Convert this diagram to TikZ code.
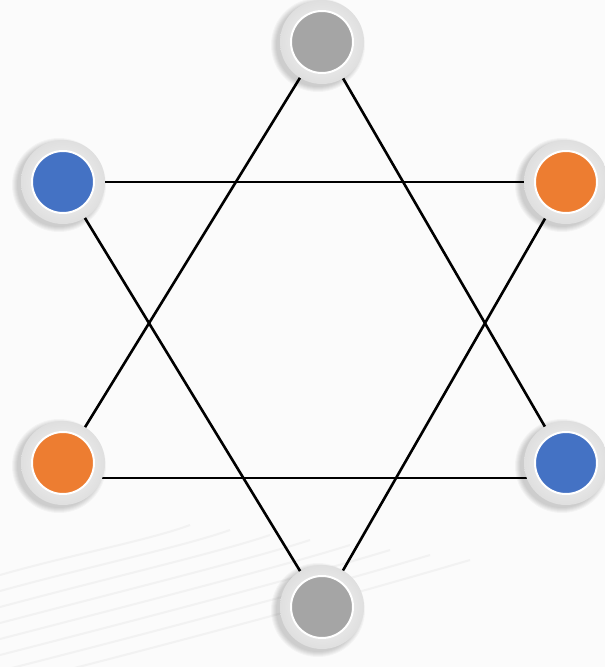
\documentclass[tikz,border=0pt]{standalone}
\usetikzlibrary{calc}
\definecolor{bgc}{HTML}{FBFBFB}
\definecolor{swirl}{HTML}{F2F2F2}
\definecolor{ringout}{HTML}{DFDFDF}
\definecolor{ringin}{HTML}{F8F8F8}
\definecolor{cblue}{HTML}{4472C4}
\definecolor{corange}{HTML}{ED7D31}
\definecolor{cgray}{HTML}{A5A5A5}
\tikzset{
  link/.style={draw=black, line width=2.6pt},
  ring/.style={circle, minimum size=84pt, inner sep=0pt, outer sep=0pt,
    inner color=ringin, outer color=ringout},
  core/.style={circle, minimum size=62pt, inner sep=0pt, outer sep=0pt,
    fill=#1, draw=white, line width=2pt},
  softshadow/.style={circle, inner sep=0pt, fill=black, fill opacity=0.03},
  swirlline/.style={draw=swirl, line width=2pt}
}
\newcommand{\mybead}[3]{%
  \foreach \r in {94,92,90,88,86,84}{
    \node[softshadow, minimum size=\r pt] at ($(#1)+(-4,3)$) {};
  }
  \node[ring] (#1ring) at (#1) {};
  \node[core=#2] (#1core) at (#1) {};
}
\begin{document}
\begin{tikzpicture}[x=1pt,y=-1pt]
\useasboundingbox (0,0) rectangle (605,667);
\clip (0,0) rectangle (605,667);
\fill[bgc] (0,0) rectangle (605,667);
% faint background swirls
\foreach \k in {0,...,7}{
  \draw[swirlline] (0,{575+\k*16}) .. controls ({70+\k*25},{555+\k*10}) and ({150+\k*35},{540+\k*6}) .. ({190+\k*40},{525+\k*5});
}
% positions
\coordinate (T)  at (322,42);
\coordinate (LB) at (63,182);
\coordinate (RO) at (566,182);
\coordinate (LO) at (63,463);
\coordinate (RB) at (566,463);
\coordinate (B)  at (322,607);
% connectors
\draw[link] (T) -- (LO);
\draw[link] (T) -- (RB);
\draw[link] ([yshift=-15pt]LO) -- ([yshift=-15pt]RB);
\draw[link] (LB) -- (RO);
\draw[link] (LB) -- (B);
\draw[link] (RO) -- (B);
% nodes
\mybead{T}{cgray}{}
\mybead{LB}{cblue}{}
\mybead{RO}{corange}{}
\mybead{LO}{corange}{}
\mybead{RB}{cblue}{}
\mybead{B}{cgray}{}
\end{tikzpicture}
\end{document}
